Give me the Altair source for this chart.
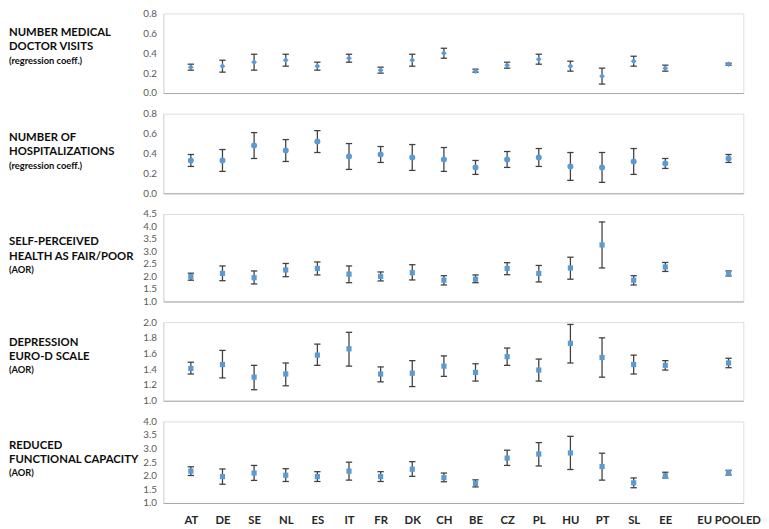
import json
import altair as alt
import pandas as pd

countries = ["AT", "DE", "SE", "NL", "ES", "IT", "FR", "DK", "CH", "BE",
             "CZ", "PL", "HU", "PT", "SL", "EE", "EU POOLED"]

visits = [0.26, 0.27, 0.31, 0.33, 0.27, 0.35, 0.23, 0.33, 0.40, 0.22, 0.28, 0.34, 0.27, 0.17, 0.32, 0.25, 0.29]
visits_lo = [0.23, 0.21, 0.23, 0.27, 0.23, 0.31, 0.20, 0.27, 0.35, 0.21, 0.25, 0.29, 0.22, 0.09, 0.27, 0.22, 0.28]
visits_hi = [0.29, 0.33, 0.39, 0.39, 0.31, 0.39, 0.26, 0.39, 0.45, 0.24, 0.31, 0.39, 0.32, 0.25, 0.37, 0.28, 0.30]

hosp = [0.33, 0.33, 0.48, 0.43, 0.52, 0.37, 0.39, 0.36, 0.34, 0.26, 0.34, 0.36, 0.27, 0.26, 0.32, 0.30, 0.35]
hosp_lo = [0.27, 0.22, 0.35, 0.32, 0.41, 0.24, 0.31, 0.23, 0.22, 0.19, 0.26, 0.27, 0.13, 0.11, 0.19, 0.25, 0.31]
hosp_hi = [0.39, 0.44, 0.61, 0.54, 0.63, 0.50, 0.47, 0.49, 0.46, 0.33, 0.42, 0.45, 0.41, 0.41, 0.45, 0.35, 0.39]

health = [2.00, 2.12, 1.95, 2.26, 2.32, 2.09, 2.00, 2.15, 1.85, 1.89, 2.32, 2.12, 2.34, 3.26, 1.85, 2.38, 2.12]
health_lo = [1.85, 1.83, 1.70, 1.99, 2.06, 1.75, 1.82, 1.86, 1.66, 1.75, 2.07, 1.78, 1.89, 2.34, 1.66, 2.20, 2.02]
health_hi = [2.13, 2.42, 2.22, 2.52, 2.58, 2.42, 2.18, 2.47, 2.03, 2.06, 2.55, 2.44, 2.77, 4.18, 2.03, 2.56, 2.22]

depr = [1.41, 1.46, 1.30, 1.34, 1.58, 1.66, 1.34, 1.35, 1.44, 1.36, 1.56, 1.39, 1.73, 1.55, 1.46, 1.45, 1.48]
depr_lo = [1.34, 1.29, 1.14, 1.19, 1.45, 1.44, 1.24, 1.18, 1.31, 1.25, 1.45, 1.25, 1.48, 1.30, 1.34, 1.39, 1.42]
depr_hi = [1.49, 1.64, 1.45, 1.48, 1.72, 1.87, 1.43, 1.51, 1.57, 1.47, 1.67, 1.53, 1.97, 1.80, 1.58, 1.51, 1.54]

func = [2.17, 1.97, 2.10, 2.02, 1.97, 2.17, 1.97, 2.24, 1.93, 1.72, 2.65, 2.80, 2.84, 2.34, 1.74, 2.00, 2.12]
func_lo = [2.01, 1.69, 1.83, 1.79, 1.79, 1.84, 1.79, 1.98, 1.78, 1.59, 2.38, 2.36, 2.23, 1.84, 1.56, 1.92, 2.03]
func_hi = [2.33, 2.25, 2.38, 2.26, 2.15, 2.50, 2.15, 2.52, 2.10, 1.85, 2.94, 3.22, 3.45, 2.83, 1.92, 2.13, 2.20]

# slot positions: one empty slot before the pooled estimate
slots = [i if i < 16 else i + 1 for i in range(len(countries))]
slot_names = countries[:16] + [""] + countries[16:]

FONT = "Lato, Liberation Sans, sans-serif"
W = 590
LEFT_PX, RIGHT_PX = 28, 15
step_px = (W - LEFT_PX - RIGHT_PX) / (len(slot_names) - 1)
X0 = -LEFT_PX / step_px
X1 = (len(slot_names) - 1) + RIGHT_PX / step_px
BLUE = "#5B9BD5"
BAR = "#404040"


def panel(est, lo, hi, ymin, ymax, ystep, shape, size, height, lines, sub,
          first_base, bottom=False):
    df = pd.DataFrame({"country": countries, "pos": slots, "est": est, "lo": lo, "hi": hi})
    base = alt.Chart(df)
    xscale = alt.Scale(domain=[X0, X1], nice=False, zero=False)
    yscale = alt.Scale(domain=[ymin, ymax], nice=False, zero=False)
    nt = int(round((ymax - ymin) / ystep))
    yvals = [round(ymin + i * ystep, 2) for i in range(nt + 1)]
    if bottom:
        xaxis = alt.Axis(values=slots, labelExpr=json.dumps(slot_names) + "[datum.value]",
                         ticks=False, grid=False, domainColor="#a6a6a6", domainWidth=1,
                         labelFont=FONT, labelFontSize=11.5, labelFontWeight="bold",
                         labelColor="#262626", labelPadding=12, labelAngle=0)
    else:
        xaxis = alt.Axis(labels=False, ticks=False, grid=False, domainColor="#a6a6a6",
                         domainWidth=1)
    yaxis = alt.Axis(values=yvals, format=".1f", ticks=False, grid=False,
                     domainColor="#d9d9d9", labelFont=FONT, labelFontSize=10,
                     labelColor="#595959", labelPadding=7)
    X = lambda f: alt.X(f, scale=xscale, axis=xaxis, title=None)
    Y = lambda f: alt.Y(f, scale=yscale, axis=yaxis, title=None)

    rule = base.mark_rule(color=BAR, strokeWidth=1.3).encode(x=X("pos:Q"), y=Y("lo:Q"), y2="hi:Q")
    caps = base.transform_fold(["lo", "hi"], as_=["end", "yv"]).transform_calculate(
        xa="datum.pos - 0.1", xb="datum.pos + 0.1"
    ).mark_rule(color=BAR, strokeWidth=1.3).encode(x=X("xa:Q"), x2="xb:Q", y=Y("yv:Q"))
    pts = base.mark_point(shape=shape, size=size, filled=True, color=BLUE, opacity=1).encode(
        x=X("pos:Q"), y=Y("est:Q"))
    lab = alt.Chart(pd.DataFrame({"k": [0]})).mark_text(
        align="left", baseline="alphabetic", font=FONT, fontSize=11.5, fontWeight="bold",
        lineHeight=14.5, color="#0d0d0d").encode(
        x=alt.value(-157), y=alt.value(first_base), text=alt.value(lines))
    sublab = alt.Chart(pd.DataFrame({"k": [0]})).mark_text(
        align="left", baseline="alphabetic", font=FONT, fontSize=9.5, fontWeight="bold",
        color="#0d0d0d").encode(
        x=alt.value(-157), y=alt.value(first_base + 28), text=alt.value(sub))
    return alt.layer(rule, caps, pts, lab, sublab).properties(width=W, height=height)


p1 = panel(visits, visits_lo, visits_hi, 0.0, 0.8, 0.2, "diamond", 34, 81,
           ["NUMBER MEDICAL", "DOCTOR VISITS"], "(regression coeff.)", 23)
p2 = panel(hosp, hosp_lo, hosp_hi, 0.0, 0.8, 0.2, "circle", 38, 81,
           ["NUMBER OF", "HOSPITALIZATIONS"], "(regression coeff.)", 28)
p3 = panel(health, health_lo, health_hi, 1.0, 4.5, 0.5, "square", 28, 89,
           ["SELF-PERCEIVED", "HEALTH AS FAIR/POOR"], "(AOR)", 32)
p4 = panel(depr, depr_lo, depr_hi, 1.0, 2.0, 0.2, "square", 28, 80,
           ["DEPRESSION", "EURO-D SCALE"], "(AOR)", 24)
p5 = panel(func, func_lo, func_hi, 1.0, 4.0, 0.5, "square", 28, 83,
           ["REDUCED", "FUNCTIONAL CAPACITY"], "(AOR)", 28, bottom=True)

chart = alt.vconcat(p1, p2, p3, p4, p5, spacing=21, bounds="flush").properties(
    padding={"left": 0, "top": -5, "right": 0, "bottom": 0}
).configure_view(stroke=None).configure(background="white")

chart.save("out.html", embed_options={"renderer": "svg", "actions": False})
